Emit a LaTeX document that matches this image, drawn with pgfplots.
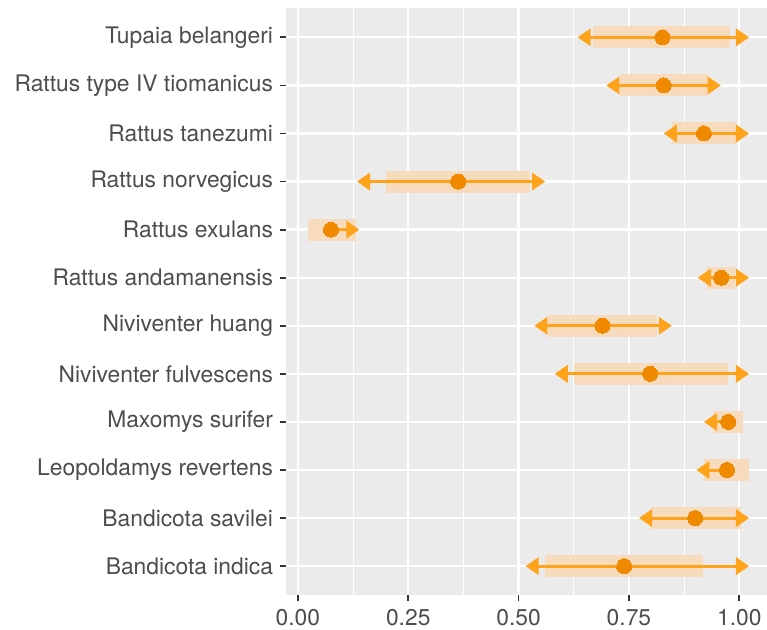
\documentclass[border=0pt]{standalone}
\usepackage{pgfplots}
\pgfplotsset{compat=1.18}
\usepackage{pgfplotstable}
\usepackage{fontspec}
\setmainfont{TeX Gyre Heros}

\definecolor{panelgrey}{HTML}{EBEBEB}
\definecolor{tickgrey}{HTML}{333333}
\definecolor{labelgrey}{HTML}{4D4D4D}
\definecolor{arrowcol}{HTML}{FFA31A}
\definecolor{pointcol}{HTML}{EF8A00}
\definecolor{bandcol}{HTML}{F8DBBC}

% closed arrow heads, tip at the data point
\pgfdeclareplotmark{tipright}{%
  \pgfpathmoveto{\pgfpoint{0bp}{0bp}}%
  \pgfpathlineto{\pgfpoint{-13bp}{9bp}}%
  \pgfpathlineto{\pgfpoint{-13bp}{-9bp}}%
  \pgfpathclose\pgfusepathqfill}
\pgfdeclareplotmark{tipleft}{%
  \pgfpathmoveto{\pgfpoint{0bp}{0bp}}%
  \pgfpathlineto{\pgfpoint{13bp}{9bp}}%
  \pgfpathlineto{\pgfpoint{13bp}{-9bp}}%
  \pgfpathclose\pgfusepathqfill}

% row: 0 = Bandicota indica (bottom) ... 11 = Tupaia belangeri (top)
% point estimates
\pgfplotstableread{
row p
11  0.826
10  0.829
9   0.920
8   0.363
7   0.075
6   0.959
5   0.690
4   0.798
3   0.975
2   0.972
1   0.900
0   0.739
}\estimates

% shaded intervals (lo, hi per row)
\pgfplotstableread{
x     row
0.669 11
0.980 11
nan   nan
0.730 10
0.928 10
nan   nan
0.847 9
0.993 9
nan   nan
0.199 8
0.526 8
nan   nan
0.022 7
0.131 7
nan   nan
0.926 6
0.990 6
nan   nan
0.567 5
0.813 5
nan   nan
0.626 4
0.974 4
nan   nan
0.940 3
1.008 3
nan   nan
0.921 2
1.023 2
nan   nan
0.799 1
1.005 1
nan   nan
0.560 0
0.917 0
}\bands

% arrow shafts (ending under the heads)
\pgfplotstableread{
x     row
0.646 11
1.010 11
nan   nan
0.711 10
0.946 10
nan   nan
0.841 9
1.010 9
nan   nan
0.146 8
0.548 8
nan   nan
0.075 7
0.127 7
nan   nan
0.918 6
1.010 6
nan   nan
0.548 5
0.835 5
nan   nan
0.594 4
1.010 4
nan   nan
0.932 3
0.975 3
nan   nan
0.915 2
0.972 2
nan   nan
0.785 1
1.010 1
nan   nan
0.528 0
1.010 0
}\shafts

% arrow tips
\pgfplotstableread{
row x
11  0.634
10  0.699
9   0.829
8   0.134
6   0.906
5   0.536
4   0.582
3   0.920
2   0.903
1   0.773
0   0.516
}\lefttips
\pgfplotstableread{
row x
11  1.022
10  0.958
9   1.022
8   0.560
7   0.139
6   1.022
5   0.847
4   1.022
1   1.022
0   1.022
}\righttips

\begin{document}
\begin{tikzpicture}
\useasboundingbox (-286bp,-35bp) rectangle (481bp,595bp);
\begin{axis}[
  at={(0,0)}, anchor=south west,
  scale only axis,
  width=481bp, height=586.5bp,
  xmin=-0.027, xmax=1.0628,
  ymin=-0.6, ymax=11.6,
  axis background/.style={fill=panelgrey},
  axis line style={draw=none},
  xtick={0,0.25,0.5,0.75,1},
  minor xtick={0.125,0.375,0.625,0.875},
  xticklabels={0.00,0.25,0.50,0.75,1.00},
  ytick={0,1,2,3,4,5,6,7,8,9,10,11},
  yticklabels={Bandicota indica,Bandicota savilei,Leopoldamys revertens,Maxomys surifer,Niviventer fulvescens,Niviventer huang,Rattus andamanensis,Rattus exulans,Rattus norvegicus,Rattus tanezumi,Rattus type IV tiomanicus,Tupaia belangeri},
  grid=both,
  major grid style={white, line width=2.3bp},
  minor grid style={white, line width=1.15bp},
  tick align=outside,
  xtick pos=bottom, ytick pos=left,
  major tick length=5.5bp, minor tick length=0pt,
  tick style={color=tickgrey, line width=1.8bp},
  ticklabel style={font=\fontsize{22.9}{27}\selectfont, text=labelgrey},
  xticklabel style={inner sep=0pt, anchor=north, yshift=-8.5bp},
  yticklabel style={xshift=-4bp},
  /pgf/number format/assume math mode=true,
  unbounded coords=jump,
]
% shaded intervals
\addplot[draw=bandcol, line width=22bp, mark=none] table[x=x, y=row] {\bands};
% arrow shafts
\addplot[draw=arrowcol, line width=3bp, mark=none] table[x=x, y=row] {\shafts};
% arrow heads
\addplot[only marks, color=arrowcol, mark=tipleft,
  mark options={fill=arrowcol, draw=arrowcol}]
  table[x=x, y=row] {\lefttips};
\addplot[only marks, color=arrowcol, mark=tipright,
  mark options={fill=arrowcol, draw=arrowcol}]
  table[x=x, y=row] {\righttips};
% point estimates
\addplot[only marks, color=pointcol, mark=*, mark size=7.5bp,
  mark options={draw=pointcol, fill=pointcol, line width=0pt}]
  table[x=p, y=row] {\estimates};
\end{axis}
\end{tikzpicture}
\end{document}
